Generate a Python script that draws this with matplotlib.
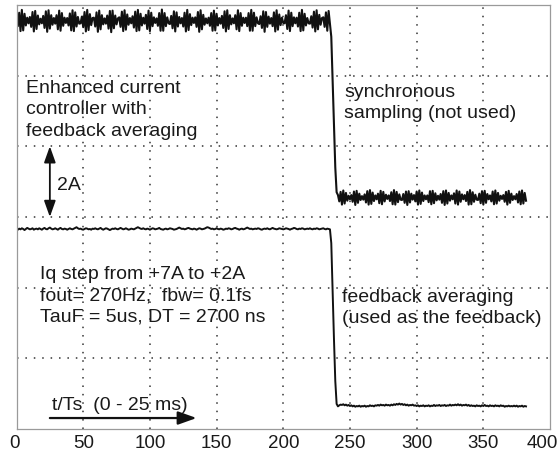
import numpy as np
import matplotlib.pyplot as plt
from matplotlib.transforms import ScaledTranslation

plt.rcParams['font.family'] = ['Liberation Sans', 'DejaVu Sans']

# Iq traces, one value per sample (t/Ts), in units of 10 mA
iq_sync = [
    709, 685, 723, 671, 731, 673, 720, 687, 709, 693,
    711, 683, 725, 670, 728, 677, 715, 690, 706,
    693, 714, 680, 727, 669, 730, 678, 716, 689, 708,
    692, 716, 676, 729, 672, 722, 686, 709, 694,
    708, 687, 721, 673, 730, 671, 724, 684, 711, 692,
    693, 712, 682, 725, 670, 731, 674, 719, 688, 708,
    709, 684, 724, 669, 729, 676, 716, 690, 707,
    692, 715, 678, 728, 668, 729, 679, 715, 690, 707,
    710, 683, 726, 671, 730, 675, 718, 689, 708,
    693, 713, 681, 726, 671, 731, 673, 720, 687, 709,
    692, 717, 677, 729, 671, 723, 685, 710, 694,
    707, 686, 722, 672, 732, 672, 722, 685, 710, 693,
    691, 714, 679, 727, 670, 724, 684, 711, 693,
    708, 684, 723, 670, 731, 674, 719, 688, 709, 694,
    710, 683, 725, 669, 730, 676, 717, 689, 707, 693,
    709, 686, 722, 672, 729, 673, 720, 687, 708,
    692, 714, 680, 727, 670, 730, 677, 716, 690, 707,
    693, 716, 676, 730, 671, 722, 686, 709, 694,
    709, 685, 722, 672, 731, 672, 723, 685, 710, 693,
    691, 713, 680, 727, 669, 725, 683, 712, 692,
    708, 685, 724, 670, 730, 675, 718, 688, 709, 694,
    693, 716, 677, 729, 671, 723, 685, 710, 693,
    709, 684, 723, 671, 731, 673, 720, 687, 708, 693,
    692, 713, 681, 726, 670, 730, 676, 717, 689, 708,
    710, 683, 724, 672, 728, 690,
    655, 530, 400, 285, 215,
    207, 189, 216, 180, 220, 183, 213, 191, 205, 195,
    207, 188, 217, 179, 219, 185, 211, 193, 204,
    194, 209, 186, 218, 180, 221, 182, 214, 190, 206,
    195, 211, 184, 219, 181, 216, 189, 208, 196,
    206, 190, 215, 181, 221, 180, 216, 187, 209, 194,
    193, 210, 185, 217, 179, 218, 186, 211, 194,
    207, 189, 217, 180, 220, 182, 214, 190, 206, 195,
    206, 187, 218, 181, 219, 184, 212, 192, 205,
    194, 210, 185, 218, 179, 220, 183, 213, 191, 206,
    195, 212, 183, 220, 180, 217, 188, 209, 195,
    207, 190, 216, 180, 221, 181, 215, 188, 208, 194,
    193, 211, 184, 218, 180, 219, 185, 210, 195,
    206, 189, 217, 181, 220, 183, 213, 191, 205, 196,
    207, 188, 216, 180, 219, 185, 211, 193, 204,
    195, 210, 186, 217, 181, 220, 183, 213, 191,
]

iq_avg = [
    700, 698, 701, 699, 702, 700, 697, 700, 703, 701, 699, 700, 702, 698, 700, 701, 699, 702, 700, 698,
    701, 703, 700, 699, 702, 704, 701, 699, 700, 702, 700, 698, 701, 703, 700, 699, 701, 700, 698, 700,
    702, 700, 699, 701, 703, 705, 702, 700, 701, 699, 698, 700, 702, 701, 699, 700, 698, 701, 700, 702,
    700, 699, 701, 703, 700, 698, 700, 702, 701, 699, 697, 699, 701, 700, 702, 700, 699, 701, 703, 701,
    699, 700, 702, 700, 698, 699, 701, 700, 699, 701, 703, 705, 703, 701, 700, 702, 700, 699, 701, 700,
    698, 700, 702, 701, 699, 700, 701, 703, 700, 699, 698, 700, 701, 699, 700, 702, 701, 700, 698, 699,
    700, 702, 704, 702, 700, 701, 699, 700, 702, 703, 701, 700, 699, 701, 700, 698, 700, 702, 701, 699,
    700, 701, 703, 705, 704, 702, 700, 701, 699, 700, 702, 700, 699, 701, 700, 698, 699, 701, 700, 702,
    701, 699, 700, 702, 703, 701, 700, 698, 700, 701, 699, 700, 702, 704, 702, 700, 701, 699, 700, 701,
    700, 702, 701, 699, 698, 700, 701, 700, 702, 700, 699, 701, 703, 701, 700, 699, 700, 702, 701, 700,
    699, 700, 702, 701, 700, 698, 700, 701, 703, 702, 700, 699, 701, 700, 702, 701, 699, 700, 701, 700,
    702, 700, 699, 701, 700, 702, 701, 699, 700, 701, 702, 700, 699, 701, 700, 699,
    660, 520, 390, 270, 205,
    198, 201, 203, 202, 204, 201, 203, 200, 202, 199, 201, 198, 200, 197, 199, 198, 200, 197, 199, 198,
    200, 197, 199, 198, 201, 199, 200, 198, 201, 200, 202, 200, 203, 201, 202, 200, 203, 201, 202, 200,
    203, 201, 204, 202, 205, 203, 206, 203, 205, 202, 204, 201, 203, 200, 202, 201, 203, 200, 201, 199,
    201, 198, 200, 199, 201, 198, 200, 199, 201, 198, 200, 199, 202, 199, 201, 200, 202, 199, 201, 200,
    202, 199, 201, 200, 203, 200, 202, 201, 203, 201, 204, 201, 203, 200, 202, 201, 203, 200, 202, 199,
    201, 199, 200, 198, 201, 199, 200, 198, 201, 199, 202, 199, 200, 198, 201, 199, 200, 198, 201, 199,
    200, 198, 201, 199, 200, 197, 199, 198, 200, 198, 199, 198, 200, 198, 200, 197, 199, 198, 200, 197,
    199, 198,
]

# vertical offsets of the two traces on the scope screen (2 A per division)
sync_offset = 4.55
avg_offset = -1.34

x_ticks = [0, 50, 100, 150, 200, 250, 300, 350, 400]

fig = plt.figure(figsize=(5.58, 4.5), dpi=100)
ax = fig.add_axes([0.0296, 0.0467, 0.9561, 0.9423])

t1 = np.arange(len(iq_sync))
t2 = np.arange(len(iq_avg))
ax.plot(t1, np.array(iq_sync) / 100 + sync_offset, color='#111111', lw=1.5)
ax.plot(t2, np.array(iq_avg) / 100 + avg_offset, color='#111111', lw=1.4)

ax.set_xlim(0, 400)
ax.set_ylim(0, 12)
ax.set_xticks(x_ticks)
ax.set_yticks([2, 4, 6, 8, 10])
ax.tick_params(axis='x', length=0, pad=4, labelsize=13.5, labelcolor='#1a1a1a')
ax.tick_params(axis='y', length=0, labelleft=False)
for s in ax.spines.values():
    s.set_color('#9a9a9a')
    s.set_linewidth(0.9)

# pull the end labels inside the picture a little
labels = ax.get_xticklabels()
labels[0].set_transform(labels[0].get_transform() + ScaledTranslation(-0.02, 0, fig.dpi_scale_trans))
labels[-1].set_transform(labels[-1].get_transform() + ScaledTranslation(-0.08, 0, fig.dpi_scale_trans))

# dotted scope grid (inner lines only)
for xv in x_ticks[1:-1]:
    ax.axvline(xv, color='#333333', lw=1.1, ls=(0, (1, 4.5)), zorder=0)
for yv in [2, 4, 6, 8, 10]:
    ax.axhline(yv, color='#333333', lw=1.1, ls=(0, (1, 4.5)), zorder=0)

txt = dict(fontsize=14, color='#1a1a1a', va='top', ha='left', linespacing=1.32)
ax.text(7.1, 9.87, 'Enhanced current\ncontroller with\nfeedback averaging', **txt)
ax.text(245.5, 9.77, 'synchronous\nsampling (not used)', **txt)
ax.text(17.6, 4.6, 'Iq step from +7A to +2A\nfout= 270Hz,  fbw= 0.1fs\nTauF = 5us, DT = 2700 ns', **txt)
ax.text(244, 3.97, 'feedback averaging\n(used as the feedback)', **txt)
ax.text(30.4, 6.88, '2A', fontsize=14, color='#1a1a1a', va='center', ha='left')
ax.text(26.6, 0.66, 't/Ts  (0 - 25 ms)', fontsize=14, color='#1a1a1a', va='center', ha='left')

# 2A scale marker and time arrow
ax.annotate('', xy=(25, 6.0), xytext=(25, 8.0),
            arrowprops=dict(arrowstyle='<|-|>,head_length=0.7,head_width=0.25', color='#111111',
                            lw=1.3, mutation_scale=14, shrinkA=0, shrinkB=0))
ax.annotate('', xy=(135, 0.31), xytext=(25, 0.31),
            arrowprops=dict(arrowstyle='-|>,head_length=0.7,head_width=0.25', color='#111111',
                            lw=1.6, mutation_scale=16, shrinkA=0, shrinkB=0))

fig.savefig('out.png', dpi=100)
